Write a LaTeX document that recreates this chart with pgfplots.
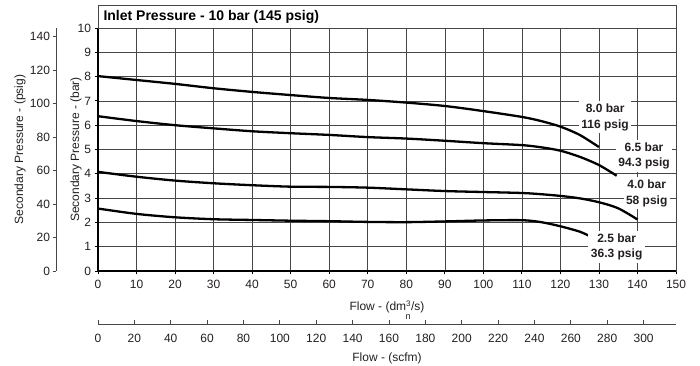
\documentclass[border=0pt]{standalone}
\usepackage{fontspec}
\setmainfont{Liberation Sans}
\usepackage{pgfplots}
\pgfplotsset{compat=1.18}
\definecolor{txt}{RGB}{35,31,32}
\definecolor{gridc}{RGB}{70,70,70}
\newcommand{\tf}{\fontsize{12}{14}\selectfont}
\begin{document}
\begin{tikzpicture}
\useasboundingbox (0,0) rectangle (700pt,366pt);
% psig axis
\begin{axis}[
  at={(56pt,95pt)}, anchor=south west,
  scale only axis, width=10pt, height=243pt,
  xmin=0, xmax=1, ymin=0, ymax=145.038,
  axis y line*=left, hide x axis,
  ytick={0,20,...,140},
  tick align=outside, major tick length=3.5pt,
  y axis line style={gridc, line width=0.8pt},
  tick style={gridc, line width=0.8pt},
  /pgf/number format/assume math mode=true,
  yticklabel style={font=\tf, text=txt, xshift=1pt},
]
\addplot[draw=none] coordinates {(0,0)};
\end{axis}
% scfm axis
\begin{axis}[
  at={(98pt,42pt)}, anchor=south west,
  scale only axis, width=578pt, height=10pt,
  xmin=0, xmax=317.83, ymin=0, ymax=1,
  axis x line*=bottom, hide y axis,
  xtick={0,20,...,300},
  tick align=inside, major tick length=3.5pt,
  x axis line style={gridc, line width=0.8pt},
  tick style={gridc, line width=0.8pt},
  /pgf/number format/assume math mode=true,
  xticklabel style={font=\tf, text=txt, yshift=-7pt},
  xlabel={Flow - (scfm)},
  xlabel style={font=\tf, text=txt, at={(axis description cs:0.5,0)}, anchor=center, yshift=-34pt},
]
\addplot[draw=none] coordinates {(0,0)};
\end{axis}
% main axis
\begin{axis}[
  name=main,
  at={(98pt,95pt)}, anchor=south west,
  scale only axis, width=578pt, height=243pt,
  xmin=0, xmax=150, ymin=0, ymax=10,
  xtick={0,10,...,150}, ytick={0,1,...,10},
  xtick pos=left, ytick pos=left,
  grid=major, major grid style={gridc, line width=0.6pt},
  axis line style={gridc, line width=0.6pt},
  tick align=outside, major tick length=3.5pt,
  tick style={black, line width=0.8pt},
  /pgf/number format/assume math mode=true,
  xticklabel style={font=\tf, text=txt, yshift=-2pt},
  yticklabel style={font=\tf, text=txt},
  xlabel={Flow - (dm\textsuperscript{3}\llap{\raisebox{-9pt}{\fontsize{9}{9}\selectfont n\kern0.5pt}}/s)},
  xlabel style={font=\tf, text=txt, at={(axis description cs:0.5,0)}, anchor=center, yshift=-39pt},
  ylabel={Secondary Pressure - (bar)},
  ylabel style={font=\tf, text=txt, at={(axis description cs:-0.038,0.5)}, anchor=center},
  clip=false,
]
\addplot[black, line width=2.3pt, smooth] coordinates {
 (0,8.02) (10,7.86) (20,7.70) (30,7.52) (40,7.37) (50,7.24) (60,7.12) (70,7.04)
 (80,6.93) (90,6.79) (100,6.58) (110,6.34) (115,6.17) (120,5.94) (125,5.6) (130,5.1)};
\addplot[black, line width=2.3pt, smooth] coordinates {
 (0,6.37) (10,6.17) (20,6.0) (30,5.87) (40,5.75) (50,5.67) (60,5.60) (70,5.51)
 (80,5.45) (90,5.36) (100,5.26) (110,5.18) (115,5.09) (120,4.95) (125,4.70) (130,4.36) (134.6,3.92)};
\addplot[black, line width=2.3pt, smooth] coordinates {
 (0,4.08) (10,3.88) (20,3.72) (30,3.61) (40,3.53) (50,3.47) (60,3.46) (70,3.43)
 (80,3.36) (90,3.29) (100,3.25) (110,3.21) (115,3.16) (120,3.09) (125,2.99) (130,2.83) (135,2.58) (140,2.12)};
\addplot[black, line width=2.3pt, smooth] coordinates {
 (0,2.57) (10,2.35) (20,2.21) (30,2.13) (40,2.10) (50,2.07) (60,2.05) (70,2.02)
 (80,2.01) (90,2.04) (100,2.08) (110,2.09) (115,2.01) (120,1.84) (125,1.62) (127.5,1.44)};
\draw[black, line width=1.4pt] (rel axis cs:0,1) -- (rel axis cs:0,0) -- (rel axis cs:1,0);
\tikzset{lab/.style={fill=white, inner sep=2.5pt, align=center, text=txt,
  font=\bfseries\fontsize{12}{15.5}\selectfont}}
\node[lab] at (axis cs:131.6,6.33) {8.0 bar\\116 psig};
\node[lab] at (axis cs:141.7,4.74) {6.5 bar\\94.3 psig};
\node[lab] at (axis cs:142.4,3.2) {4.0 bar\\58 psig};
\node[lab] at (axis cs:134.6,1.0) {2.5 bar\\36.3 psig};
\end{axis}
\draw[gridc, line width=0.8pt] (main.north west) rectangle ([yshift=23pt]main.north east);
\node[anchor=west, font=\bfseries\fontsize{14}{16}\selectfont, text=black] at ([xshift=2pt, yshift=11.5pt]main.north west) {Inlet Pressure - 10 bar (145 psig)};
\node[rotate=90, font=\tf, text=txt] at ([xshift=-78pt]main.west) {Secondary Pressure - (psig)};
\end{tikzpicture}
\end{document}
